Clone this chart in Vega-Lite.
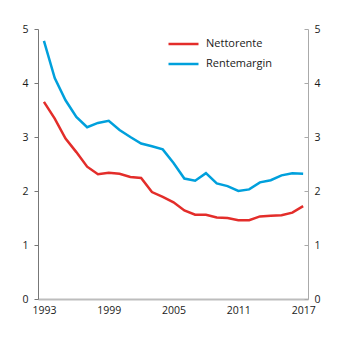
{
  "$schema": "https://vega.github.io/schema/vega-lite/v6.json",
  "autosize": "none",
  "width": 270,
  "height": 270,
  "padding": {"left": 38, "top": 29, "right": 38, "bottom": 42},
  "background": "white",
  "config": {
    "view": {"stroke": null},
    "font": "Open Sans",
    "axis": {"grid": false, "labelFont": "Open Sans", "labelFontSize": 10.5, "labelColor": "#1a1a1a", "title": null}
  },
  "data": {
    "values": [
      {"year": 1993, "series": "Nettorente", "value": 3.65},
      {"year": 1994, "series": "Nettorente", "value": 3.34},
      {"year": 1995, "series": "Nettorente", "value": 2.97},
      {"year": 1996, "series": "Nettorente", "value": 2.72},
      {"year": 1997, "series": "Nettorente", "value": 2.45},
      {"year": 1998, "series": "Nettorente", "value": 2.31},
      {"year": 1999, "series": "Nettorente", "value": 2.34},
      {"year": 2000, "series": "Nettorente", "value": 2.32},
      {"year": 2001, "series": "Nettorente", "value": 2.26},
      {"year": 2002, "series": "Nettorente", "value": 2.24},
      {"year": 2003, "series": "Nettorente", "value": 1.98},
      {"year": 2004, "series": "Nettorente", "value": 1.89},
      {"year": 2005, "series": "Nettorente", "value": 1.79},
      {"year": 2006, "series": "Nettorente", "value": 1.64},
      {"year": 2007, "series": "Nettorente", "value": 1.56},
      {"year": 2008, "series": "Nettorente", "value": 1.56},
      {"year": 2009, "series": "Nettorente", "value": 1.51},
      {"year": 2010, "series": "Nettorente", "value": 1.5},
      {"year": 2011, "series": "Nettorente", "value": 1.46},
      {"year": 2012, "series": "Nettorente", "value": 1.46},
      {"year": 2013, "series": "Nettorente", "value": 1.53},
      {"year": 2014, "series": "Nettorente", "value": 1.54},
      {"year": 2015, "series": "Nettorente", "value": 1.55},
      {"year": 2016, "series": "Nettorente", "value": 1.6},
      {"year": 2017, "series": "Nettorente", "value": 1.72},
      {"year": 1993, "series": "Rentemargin", "value": 4.78},
      {"year": 1994, "series": "Rentemargin", "value": 4.09},
      {"year": 1995, "series": "Rentemargin", "value": 3.68},
      {"year": 1996, "series": "Rentemargin", "value": 3.37},
      {"year": 1997, "series": "Rentemargin", "value": 3.18},
      {"year": 1998, "series": "Rentemargin", "value": 3.26},
      {"year": 1999, "series": "Rentemargin", "value": 3.3},
      {"year": 2000, "series": "Rentemargin", "value": 3.13},
      {"year": 2001, "series": "Rentemargin", "value": 3.0},
      {"year": 2002, "series": "Rentemargin", "value": 2.88},
      {"year": 2003, "series": "Rentemargin", "value": 2.83},
      {"year": 2004, "series": "Rentemargin", "value": 2.77},
      {"year": 2005, "series": "Rentemargin", "value": 2.52},
      {"year": 2006, "series": "Rentemargin", "value": 2.23},
      {"year": 2007, "series": "Rentemargin", "value": 2.19},
      {"year": 2008, "series": "Rentemargin", "value": 2.33},
      {"year": 2009, "series": "Rentemargin", "value": 2.14},
      {"year": 2010, "series": "Rentemargin", "value": 2.09},
      {"year": 2011, "series": "Rentemargin", "value": 2.0},
      {"year": 2012, "series": "Rentemargin", "value": 2.03},
      {"year": 2013, "series": "Rentemargin", "value": 2.16},
      {"year": 2014, "series": "Rentemargin", "value": 2.2},
      {"year": 2015, "series": "Rentemargin", "value": 2.29},
      {"year": 2016, "series": "Rentemargin", "value": 2.33},
      {"year": 2017, "series": "Rentemargin", "value": 2.32}
    ]
  },
  "encoding": {
    "x": {
      "field": "year", "type": "quantitative",
      "scale": {"domain": [1992.45, 2017.45], "nice": false, "zero": false},
      "axis": {"values": [1993, 1999, 2005, 2011, 2017], "format": "d", "ticks": false, "domainColor": "#bdbdbd", "domainWidth": 2, "labelPadding": 6, "labelFlush": false}
    }
  },
  "layer": [
    {
      "mark": {"type": "line", "strokeWidth": 2.5},
      "encoding": {
        "y": {
          "field": "value", "type": "quantitative",
          "scale": {"domain": [0, 5], "nice": false},
          "axis": {"orient": "left", "values": [0, 1, 2, 3, 4, 5], "domainColor": "#777", "tickColor": "#777", "tickSize": 4, "labelPadding": 6}
        },
        "color": {
          "field": "series", "type": "nominal",
          "scale": {"domain": ["Nettorente", "Rentemargin"], "range": ["#e32d2a", "#00a0dc"]},
          "legend": {
            "title": null, "orient": "none", "legendX": 129, "legendY": 8,
            "symbolType": "stroke", "symbolSize": 900, "symbolStrokeWidth": 2.5,
            "clipHeight": 14,
            "labelFont": "Open Sans", "labelFontSize": 11, "labelColor": "#1a1a1a",
            "rowPadding": 6, "labelOffset": 6
          }
        }
      }
    },
    {
      "mark": {"type": "line", "opacity": 0},
      "encoding": {
        "detail": {"field": "series"},
        "y": {
          "field": "value", "type": "quantitative",
          "scale": {"domain": [0, 5], "nice": false},
          "axis": {"orient": "right", "values": [0, 1, 2, 3, 4, 5], "domainColor": "#aaa", "tickColor": "#aaa", "tickSize": -4, "labelPadding": 10}
        }
      }
    }
  ],
  "resolve": {"scale": {"y": "independent"}, "axis": {"y": "independent"}}
}
